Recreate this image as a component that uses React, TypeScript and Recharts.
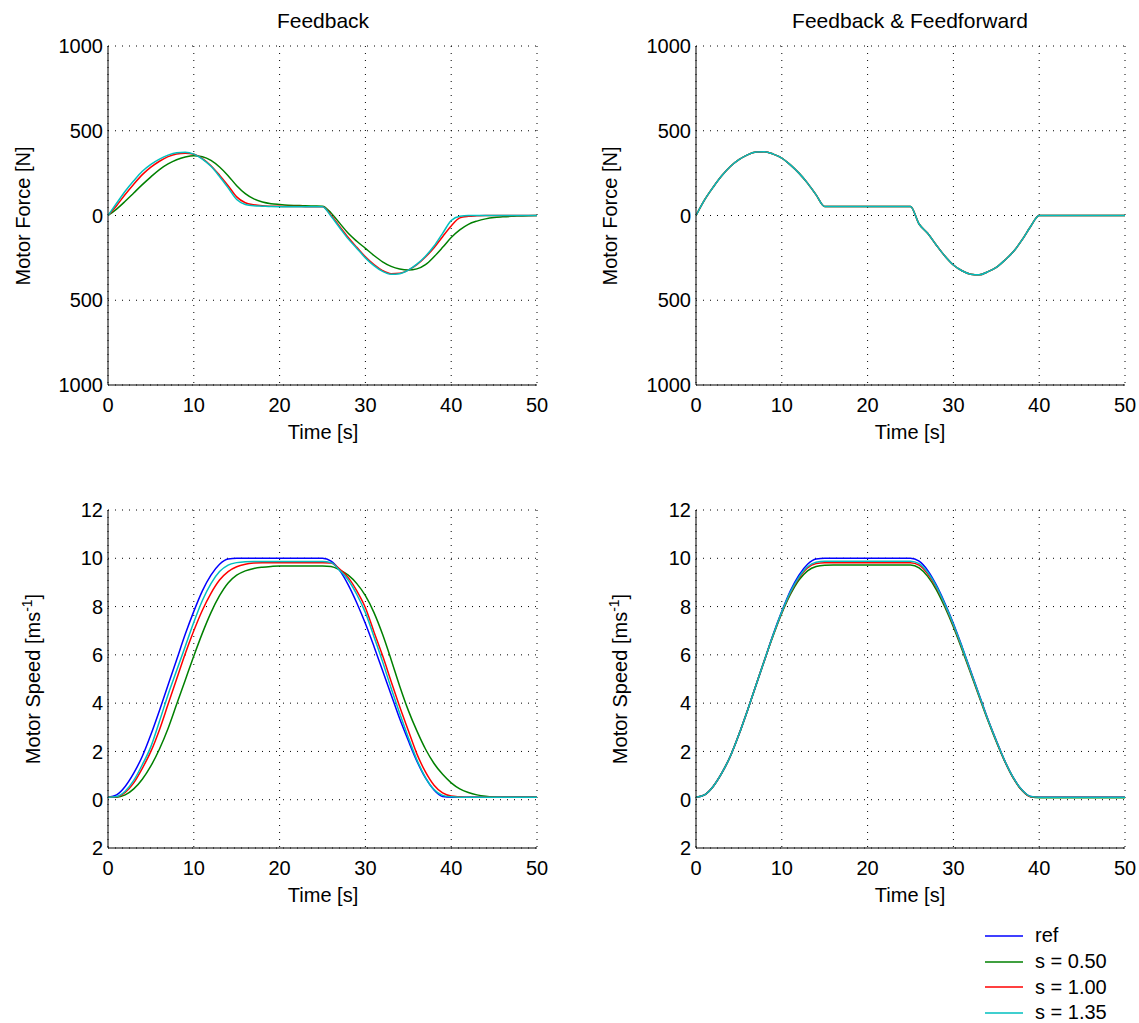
import React from 'react';
import { LineChart, Line, XAxis, YAxis, CartesianGrid } from 'recharts';

// time axis, seconds
const time = [
  0, 1, 2, 3, 4, 5, 6, 7, 8, 9, 10, 11, 12, 13, 14, 15, 16, 17, 18, 19, 20, 21, 22, 23, 24, 25,
  26, 27, 28, 29, 30, 31, 32, 33, 34, 35, 36, 37, 38, 39, 40, 41, 42, 43, 44, 45, 46, 47, 48, 49, 50,
];

const seriesNames = ['ref', 's = 0.50', 's = 1.00', 's = 1.35'];
const seriesColors = ['#0000ff', '#008000', '#ff0000', '#00bfbf'];

const xTicks = [0, 10, 20, 30, 40, 50];
const forceTicks = [-1000, -500, 0, 500, 1000];
const speedTicks = [-2, 0, 2, 4, 6, 8, 10, 12];

// reference speed [m/s]
const refSpeed = [
  0.1, 0.2, 0.55, 1.1, 1.8, 2.7, 3.7, 4.75, 5.8, 6.85, 7.8, 8.65, 9.3, 9.75, 9.97, 10,
  10, 10, 10, 10, 10, 10, 10, 10, 10, 10,
  9.88, 9.5, 8.9, 8.15, 7.3, 6.35, 5.35, 4.35, 3.35, 2.45, 1.6, 0.9, 0.4, 0.13, 0.1,
  0.1, 0.1, 0.1, 0.1, 0.1, 0.1, 0.1, 0.1, 0.1, 0.1,
];

// feedback only
const fbGreenSpeed = [
  0.1, 0.1, 0.2, 0.45, 0.85, 1.4, 2.1, 2.95, 3.95, 4.95, 5.95, 6.9, 7.75, 8.45, 8.98, 9.3,
  9.48, 9.58, 9.63, 9.66, 9.68, 9.68, 9.68, 9.68, 9.68, 9.68,
  9.66, 9.52, 9.3, 8.95, 8.45, 7.75, 6.85, 5.8, 4.7, 3.7, 2.85, 2.1, 1.5, 1.05, 0.7,
  0.45, 0.3, 0.2, 0.14, 0.11, 0.1, 0.1, 0.1, 0.1, 0.1,
];
const fbRedSpeed = [
  0.1, 0.12, 0.3, 0.7, 1.3, 2.0, 2.9, 3.95, 5.0, 6.05, 7.0, 7.85, 8.55, 9.1, 9.45, 9.65,
  9.75, 9.8, 9.82, 9.82, 9.82, 9.82, 9.82, 9.82, 9.82, 9.82,
  9.8, 9.55, 9.2, 8.65, 7.95, 6.95, 5.97, 4.9, 3.85, 2.87, 1.9, 1.15, 0.6, 0.28, 0.15,
  0.12, 0.1, 0.1, 0.1, 0.1, 0.1, 0.1, 0.1, 0.1, 0.1,
];
const fbCyanSpeed = [
  0.1, 0.13, 0.35, 0.8, 1.45, 2.2, 3.25, 4.35, 5.35, 6.35, 7.35, 8.25, 8.95, 9.45, 9.72, 9.82,
  9.86, 9.87, 9.87, 9.87, 9.87, 9.87, 9.87, 9.87, 9.87, 9.87,
  9.82, 9.5, 9.1, 8.5, 7.75, 6.75, 5.72, 4.62, 3.57, 2.58, 1.65, 0.92, 0.42, 0.18, 0.12,
  0.1, 0.1, 0.1, 0.1, 0.1, 0.1, 0.1, 0.1, 0.1, 0.1,
];

const fbGreenForce = [
  0, 38, 84, 133, 182, 228, 271, 304, 329, 345,
  353, 347, 325, 286, 235, 176, 129, 98, 80, 70,
  65, 61, 59, 57, 56, 55,
  15, -45, -105, -152, -194, -236, -273, -300, -316, -322,
  -315, -290, -243, -188, -130, -85,
  -52, -33, -20, -12, -8, -5, -3, -1, 0,
];
const fbRedForce = [
  0, 58, 124, 185, 241, 285, 320, 347, 363, 367,
  362, 336, 294, 238, 176, 110, 75, 63, 57, 55,
  54, 53, 53, 52, 52, 52,
  2, -65, -130, -188, -244, -290, -325, -343, -341, -322,
  -290, -245, -190, -125, -62, -14,
  -5, -2, 0, 0, 0, 0, 0, 0, 0,
];
const fbCyanForce = [
  0, 72, 143, 205, 261, 302, 333, 356, 370, 373,
  362, 333, 290, 230, 163, 94, 65, 57, 55, 53,
  52, 52, 52, 52, 52, 52,
  -5, -72, -138, -194, -250, -296, -330, -347, -343, -322,
  -287, -240, -180, -105, -30, -4,
  0, 0, 0, 0, 0, 0, 0, 0, 0,
];

// feedback & feedforward
const ffGreenSpeed = [
  0.1, 0.2, 0.55, 1.1, 1.8, 2.7, 3.7, 4.75, 5.8, 6.8, 7.72, 8.5, 9.1, 9.48, 9.66, 9.71,
  9.72, 9.72, 9.72, 9.72, 9.72, 9.72, 9.72, 9.72, 9.72, 9.72,
  9.6, 9.25, 8.7, 7.98, 7.15, 6.22, 5.25, 4.27, 3.3, 2.4, 1.58, 0.88, 0.38, 0.12, 0.08,
  0.08, 0.08, 0.08, 0.08, 0.08, 0.08, 0.08, 0.08, 0.08, 0.08,
];
const ffRedSpeed = [
  0.1, 0.2, 0.55, 1.1, 1.8, 2.7, 3.7, 4.75, 5.8, 6.82, 7.76, 8.57, 9.18, 9.6, 9.78, 9.82,
  9.82, 9.82, 9.82, 9.82, 9.82, 9.82, 9.82, 9.82, 9.82, 9.82,
  9.72, 9.36, 8.8, 8.07, 7.23, 6.29, 5.3, 4.31, 3.33, 2.43, 1.59, 0.89, 0.39, 0.12, 0.1,
  0.1, 0.1, 0.1, 0.1, 0.1, 0.1, 0.1, 0.1, 0.1, 0.1,
];
const ffCyanSpeed = [
  0.1, 0.2, 0.55, 1.1, 1.8, 2.7, 3.7, 4.75, 5.8, 6.83, 7.78, 8.6, 9.22, 9.65, 9.84, 9.88,
  9.88, 9.88, 9.88, 9.88, 9.88, 9.88, 9.88, 9.88, 9.88, 9.88,
  9.78, 9.42, 8.85, 8.1, 7.26, 6.32, 5.32, 4.33, 3.34, 2.44, 1.6, 0.9, 0.4, 0.13, 0.1,
  0.1, 0.1, 0.1, 0.1, 0.1, 0.1, 0.1, 0.1, 0.1, 0.1,
];
const ffForce = [
  0, 92, 167, 234, 289, 329, 358, 374, 376, 362,
  339, 299, 250, 191, 122, 53, 53, 53, 53, 53,
  53, 53, 53, 53, 53, 53,
  -50, -105, -174, -239, -292, -326, -346, -350, -332, -306,
  -263, -213, -144, -65, 0, 0,
  0, 0, 0, 0, 0, 0, 0, 0, 0,
];

function buildRows(cols: number[][]) {
  return time.map((t, i) => {
    const row: Record<string, number> = { t };
    cols.forEach((c, k) => {
      if (c) row['s' + k] = c[i];
    });
    return row;
  });
}

// column index k matches seriesNames / seriesColors
const fbForceRows = buildRows([null as any, fbGreenForce, fbRedForce, fbCyanForce]);
const ffForceRows = buildRows([null as any, ffForce, ffForce, ffForce]);
const fbSpeedRows = buildRows([refSpeed, fbGreenSpeed, fbRedSpeed, fbCyanSpeed]);
const ffSpeedRows = buildRows([refSpeed, ffGreenSpeed, ffRedSpeed, ffCyanSpeed]);

const absLabel = (v: number) => String(Math.abs(v));
const blank = () => '';
const tickStyle = { fontSize: 20, fill: '#000' };

function Panel({ x0, y0, x1, y1, rows, keys, yDomain, yTicks }: any) {
  const plotW = x1 - x0;
  const plotH = y1 - y0;
  return (
    <div style={{ position: 'absolute', left: x0 - 60, top: y0 - 10 }}>
      <LineChart width={plotW + 80} height={plotH + 50} data={rows}
        margin={{ top: 10, right: 20, bottom: 10, left: 10 }}>
        <CartesianGrid stroke="#000" strokeDasharray="1 6" />
        <XAxis dataKey="t" type="number" domain={[0, 50]} ticks={xTicks} allowDataOverflow interval={0}
          tick={tickStyle} tickLine={false} tickSize={6} tickMargin={7} height={30}
          axisLine={{ stroke: '#000' }} />
        <XAxis xAxisId="bot" dataKey="t" type="number" orientation="bottom" mirror domain={[0, 50]}
          ticks={xTicks} allowDataOverflow interval={0} tickFormatter={blank} tickSize={5}
          tickLine={{ stroke: '#000' }} axisLine={false} height={0} />
        <XAxis xAxisId="top" dataKey="t" type="number" orientation="top" mirror domain={[0, 50]}
          ticks={xTicks} allowDataOverflow interval={0} tickFormatter={blank} tickSize={5}
          tickLine={{ stroke: '#000' }} axisLine={{ stroke: '#000' }} height={0} />
        <YAxis type="number" domain={yDomain} ticks={yTicks} allowDataOverflow interval={0}
          tick={tickStyle} tickFormatter={absLabel} tickLine={false} tickSize={2} tickMargin={3}
          width={50} axisLine={{ stroke: '#000' }} />
        <YAxis yAxisId="lft" type="number" orientation="left" mirror domain={yDomain} ticks={yTicks}
          allowDataOverflow interval={0} tickFormatter={blank} tickSize={5}
          tickLine={{ stroke: '#000' }} axisLine={false} width={0} />
        <YAxis yAxisId="rgt" type="number" orientation="right" mirror domain={yDomain} ticks={yTicks}
          allowDataOverflow interval={0} tickFormatter={blank} tickSize={5}
          tickLine={{ stroke: '#000' }} axisLine={{ stroke: '#000' }} width={0} />
        {keys.map((k: number) => (
          <Line key={k} dataKey={'s' + k} name={seriesNames[k]} stroke={seriesColors[k]}
            strokeWidth={1.5} type="monotone" dot={false} isAnimationActive={false} />
        ))}
      </LineChart>
    </div>
  );
}

function Txt({ x, y, size = 20, rotate = false, children }: any) {
  return (
    <div style={{
      position: 'absolute', left: x, top: y, fontSize: size, lineHeight: 1, whiteSpace: 'nowrap',
      transform: `translate(-50%, -50%)${rotate ? ' rotate(-90deg)' : ''}`,
    }}>{children}</div>
  );
}

const speedLabel = <span>Motor Speed [ms<sup style={{ fontSize: 14 }}>-1</sup>]</span>;

export default function App() {
  return (
    <div style={{
      position: 'absolute', left: 0, top: 0, width: 1139, height: 1023, background: '#fff',
      fontFamily: '"Liberation Sans", Arial, sans-serif', color: '#000',
    }}>
      <Txt x={323} y={20} size={21}>Feedback</Txt>
      <Txt x={910} y={20} size={21}>Feedback &amp; Feedforward</Txt>

      <Panel x0={108} y0={46} x1={537} y1={385} rows={fbForceRows} keys={[1, 2, 3]}
        yDomain={[-1000, 1000]} yTicks={forceTicks} />
      <Panel x0={696} y0={46} x1={1125} y1={385} rows={ffForceRows} keys={[1, 2, 3]}
        yDomain={[-1000, 1000]} yTicks={forceTicks} />
      <Panel x0={108} y0={510} x1={537} y1={848} rows={fbSpeedRows} keys={[0, 1, 2, 3]}
        yDomain={[-2, 12]} yTicks={speedTicks} />
      <Panel x0={696} y0={510} x1={1125} y1={848} rows={ffSpeedRows} keys={[0, 1, 2, 3]}
        yDomain={[-2, 12]} yTicks={speedTicks} />

      <Txt x={23} y={216} rotate>Motor Force [N]</Txt>
      <Txt x={610} y={216} rotate>Motor Force [N]</Txt>
      <Txt x={31} y={679} rotate>{speedLabel}</Txt>
      <Txt x={618} y={679} rotate>{speedLabel}</Txt>

      <Txt x={323} y={432}>Time [s]</Txt>
      <Txt x={910} y={432}>Time [s]</Txt>
      <Txt x={323} y={895}>Time [s]</Txt>
      <Txt x={910} y={895}>Time [s]</Txt>

      <div style={{ position: 'absolute', left: 985, top: 923 }}>
        {seriesNames.map((n, i) => (
          <div key={n} style={{ display: 'flex', alignItems: 'center', height: 25.7 }}>
            <svg width={38} height={4} style={{ display: 'block' }}>
              <line x1={0} y1={2} x2={38} y2={2} stroke={seriesColors[i]} strokeWidth={1.5} />
            </svg>
            <span style={{ marginLeft: 12, fontSize: 20 }}>{n}</span>
          </div>
        ))}
      </div>
    </div>
  );
}
